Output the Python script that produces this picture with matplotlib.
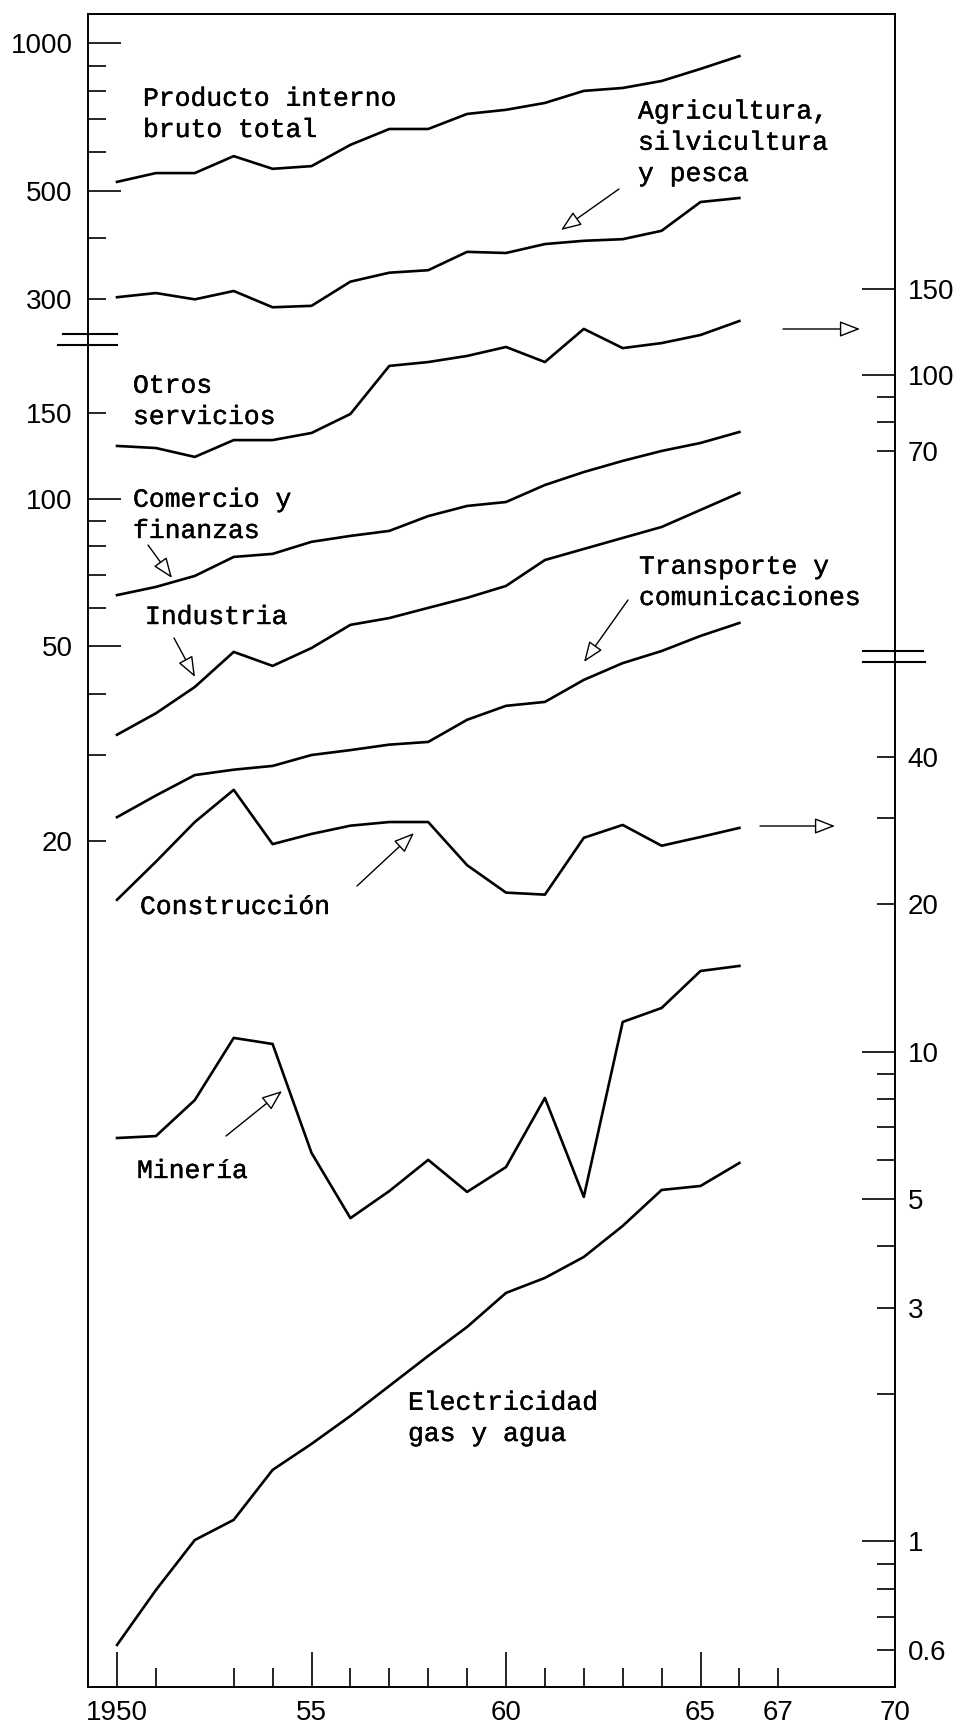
import matplotlib
matplotlib.use('Agg')
import matplotlib.pyplot as plt
import matplotlib.patheffects as pe
from matplotlib.ticker import FixedLocator, FuncFormatter
from matplotlib.patches import FancyArrowPatch
from matplotlib.lines import Line2D

W, H = 960, 1726

# ---- data ----
years = list(range(1950, 1967))

pib_total = [521, 543, 543, 588, 554, 561, 620, 668, 668, 717, 731, 755, 799, 810, 837, 886, 941]
agricultura = [303, 309, 300, 312, 289, 291, 326, 340, 344, 375, 373, 389, 395, 398, 414, 474, 483]
otros_servicios = [71.6, 70.9, 68.0, 73.6, 73.6, 76.1, 83.2, 104.3, 106.2, 109.3, 114.0, 106.2, 124.1, 113.4, 116.1, 120.6, 128.8]
comercio = [63.6, 66.1, 69.6, 76.1, 77.2, 81.7, 84.0, 86.0, 92.2, 96.7, 98.5, 106.7, 113.4, 119.5, 125.2, 130.0, 136.9]
industria = [33.0, 36.5, 41.3, 48.7, 45.6, 49.6, 55.3, 57.1, 59.9, 62.8, 66.4, 75.0, 79.0, 83.2, 87.6, 94.9, 102.8]
transporte = [22.4, 24.8, 27.3, 28.0, 28.5, 30.0, 30.7, 31.5, 31.9, 35.4, 37.8, 38.5, 42.7, 46.2, 48.9, 52.5, 55.8]
construccion = [20.4, 24.4, 29.4, 34.2, 26.5, 27.8, 28.9, 29.4, 29.4, 24.0, 21.1, 20.9, 27.3, 29.0, 26.3, 27.4, 28.6]
mineria = [6.66, 6.72, 7.96, 10.66, 10.36, 6.21, 4.57, 5.19, 6.01, 5.17, 5.81, 8.04, 5.05, 11.49, 12.27, 14.60, 14.95]
electricidad = [0.615, 0.796, 1.007, 1.107, 1.400, 1.582, 1.804, 2.077, 2.392, 2.741, 3.216, 3.451, 3.808, 4.406, 5.217, 5.316, 5.923]

# x axis ticks
x_long = [1950, 1955, 1960, 1965]
x_short = [1951, 1953, 1954, 1956, 1957, 1958, 1959, 1961, 1962, 1963, 1964, 1966, 1967, 1970]
x_labels = {1950: '1950', 1955: '55', 1960: '60', 1965: '65', 1967: '67', 1970: '70'}

# left axis, upper scale (PIB, agricultura)
a_long = [500, 1000]
a_short = [300, 400, 600, 700, 800, 900]
a_labels = {300: '300', 500: '500', 1000: '1000'}
# left axis, lower scale (comercio, industria, transporte)
b_long = [50, 100]
b_short = [20, 30, 40, 60, 70, 80, 90, 150]
b_labels = {20: '20', 50: '50', 100: '100', 150: '150'}
# right axis, upper scale (otros servicios)
c_long = [100, 150]
c_short = [70, 80, 90]
c_labels = {70: '70', 100: '100', 150: '150'}
# right axis, lower scale (construccion, mineria, electricidad)
d_long = [1, 5, 10]
d_short = [0.6, 0.7, 0.8, 0.9, 2, 3, 4, 6, 7, 8, 9, 20, 30, 40]
d_labels = {0.6: '0.6', 1: '1', 3: '3', 5: '5', 10: '10', 20: '20', 40: '40'}

# ---- layout ----
XLIM = (1949.254, 1970)
YLIM_A = (0.4417, 1146.7)
YLIM_B = (0.3759, 975.9)
YLIM_C = (0.2099, 545.1)
YLIM_D = (0.5047, 1310.5)

TICK_FONT = 'Liberation Sans'
TYPE_FONT = 'Liberation Mono'


def fig_xy(x, y):
    return (x / W, 1 - y / H)


def set_log_ticks(axis, longs, shorts, labels):
    axis.set_major_locator(FixedLocator(longs))
    axis.set_minor_locator(FixedLocator(shorts))
    fmt = FuncFormatter(lambda v, p: labels.get(round(v, 3), ''))
    axis.set_major_formatter(fmt)
    axis.set_minor_formatter(fmt)


fig = plt.figure(figsize=(W / 100, H / 100), dpi=100)
rect = [88 / W, 1 - 1687 / H, 807 / W, 1673 / H]

axA = fig.add_axes(rect)
axB = fig.add_axes(rect, facecolor='none')
axC = fig.add_axes(rect, facecolor='none')
axD = fig.add_axes(rect, facecolor='none')

for ax, lim in [(axA, YLIM_A), (axB, YLIM_B), (axC, YLIM_C), (axD, YLIM_D)]:
    ax.set_yscale('log')
    ax.set_xlim(*XLIM)
    ax.set_ylim(*lim)
    for s in ax.spines.values():
        s.set_linewidth(1.4)

for ax in (axB, axC, axD):
    for s in ax.spines.values():
        s.set_visible(False)
    ax.xaxis.set_visible(False)

# lines
lw = 1.9
axA.plot(years, pib_total, 'k-', lw=lw)
axA.plot(years, agricultura, 'k-', lw=lw)
axC.plot(years, otros_servicios, 'k-', lw=lw)
axB.plot(years, comercio, 'k-', lw=lw)
axB.plot(years, industria, 'k-', lw=lw)
axB.plot(years, transporte, 'k-', lw=lw)
axD.plot(years, construccion, 'k-', lw=lw)
axD.plot(years, mineria, 'k-', lw=lw)
axD.plot(years, electricidad, 'k-', lw=lw)

# x ticks
axA.xaxis.set_major_locator(FixedLocator(x_long))
axA.xaxis.set_minor_locator(FixedLocator(x_short))
xfmt = FuncFormatter(lambda v, p: x_labels.get(int(round(v)), ''))
axA.xaxis.set_major_formatter(xfmt)
axA.xaxis.set_minor_formatter(xfmt)
axA.tick_params(axis='x', which='both', direction='in', top=False, width=1.2,
                pad=9, labelsize=20)
axA.tick_params(axis='x', which='major', length=25)
axA.tick_params(axis='x', which='minor', length=14)

# y ticks
set_log_ticks(axA.yaxis, a_long, a_short, a_labels)
set_log_ticks(axB.yaxis, b_long, b_short, b_labels)
set_log_ticks(axC.yaxis, c_long, c_short, c_labels)
set_log_ticks(axD.yaxis, d_long, d_short, d_labels)

for ax in (axA, axB):
    ax.tick_params(axis='y', which='both', direction='in', left=True, right=False,
                   labelleft=True, labelright=False, width=1.2, pad=11, labelsize=20)
for ax in (axC, axD):
    ax.yaxis.tick_right()
    ax.tick_params(axis='y', which='both', direction='in', left=False, right=True,
                   labelleft=False, labelright=True, width=1.2, pad=9, labelsize=20)
for ax in (axA, axB, axC, axD):
    ax.tick_params(axis='y', which='major', length=24)
    ax.tick_params(axis='y', which='minor', length=13)
    for lab in ax.get_xticklabels(which='both') + ax.get_yticklabels(which='both'):
        lab.set_family(TICK_FONT)

# scale breaks
for x0, x1, y in [(63, 117, 334), (58, 117, 345), (863, 923, 651), (863, 925, 662)]:
    (fx0, fy0), (fx1, _) = fig_xy(x0, y), fig_xy(x1, y)
    fig.add_artist(Line2D([fx0, fx1], [fy0, fy0], color='k', lw=1.5))

# typewriter labels (y = baseline of the last line)
notes = [
    ("Producto interno\nbruto total", 143, 137),
    ("Agricultura,\nsilvicultura\ny pesca", 638, 181),
    ("Otros\nservicios", 133, 424),
    ("Comercio y\nfinanzas", 133, 538),
    ("Industria", 145, 624),
    ("Transporte y\ncomunicaciones", 639, 605),
    ("Construcción", 140, 914),
    ("Minería", 137, 1178),
    ("Electricidad\ngas y agua", 408, 1441),
]
for txt, x, y in notes:
    fx, fy = fig_xy(x, y)
    fig.text(fx, fy, txt, family=TYPE_FONT, fontsize=19, ha='left', va='baseline',
             linespacing=1.38,
             path_effects=[pe.withStroke(linewidth=0.3, foreground='black')])

# pointer arrows
arrows = [
    ((619, 189), (561, 230)),
    ((148, 545), (172, 578)),
    ((174, 638), (195, 677)),
    ((628, 600), (584, 662)),
    ((357, 886), (414, 833)),
    ((226, 1136), (282, 1091)),
    ((783, 329), (860, 329)),
    ((760, 826), (835, 826)),
]
for start, end in arrows:
    fig.add_artist(FancyArrowPatch(fig_xy(*start), fig_xy(*end), transform=fig.transFigure,
                                   arrowstyle='-|>,head_length=0.9,head_width=0.35',
                                   mutation_scale=14, fc='white', ec='black', lw=1.0,
                                   shrinkA=0, shrinkB=0))

fig.savefig('out.png', dpi=100)
